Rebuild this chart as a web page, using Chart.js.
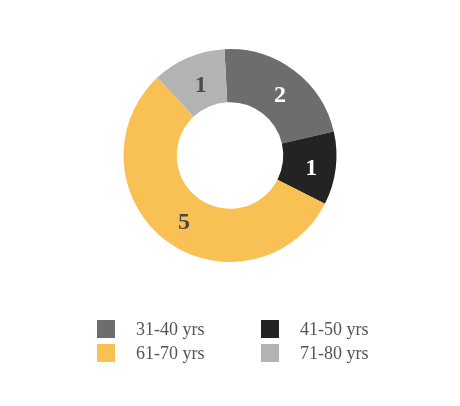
<!DOCTYPE html>
<html>
<head>
<meta charset="utf-8">
<script src="https://cdn.jsdelivr.net/npm/chart.js@4/dist/chart.umd.min.js"></script>
<style>
    body { margin: 0; background: #fff; }
    #wrap { position: relative; width: 460px; height: 406px; }
    #ageChart { position: absolute; left: 0; top: 0; }
    .legend-item {
        position: absolute;
        font-family: 'Liberation Serif', 'Times New Roman', serif;
        font-size: 18px;
        color: #555;
        line-height: 18px;
    }
    .legend-box {
        position: absolute;
        width: 18px;
        height: 18px;
    }
</style>
</head>
<body>
<div id="wrap">
    <canvas id="ageChart" width="460" height="406"></canvas>
    <div id="legend"></div>
</div>
<script>
// 数据
const ageGroups = ['31-40 yrs', '41-50 yrs', '61-70 yrs', '71-80 yrs'];
const counts = [2, 1, 5, 1];
const sliceColors = ['#6d6d6d', '#232323', '#f9c153', '#b3b3b3'];
const labelColors = ['#ffffff', '#ffffff', '#4a4a4a', '#4a4a4a'];

// 在扇区中间画数字
const sliceLabels = {
    id: 'sliceLabels',
    afterDatasetsDraw(chart) {
        const ctx = chart.ctx;
        const meta = chart.getDatasetMeta(0);
        ctx.save();
        ctx.font = 'bold 24px "Liberation Serif", "Times New Roman", serif';
        ctx.textAlign = 'center';
        ctx.textBaseline = 'middle';
        meta.data.forEach((arc, i) => {
            const pos = arc.tooltipPosition();
            ctx.fillStyle = labelColors[i];
            ctx.fillText(String(counts[i]), pos.x + 2, pos.y + 4);
        });
        ctx.restore();
    }
};

new Chart(document.getElementById('ageChart'), {
    type: 'doughnut',
    data: {
        labels: ageGroups,
        datasets: [{
            data: counts,
            backgroundColor: sliceColors,
            borderWidth: 0
        }]
    },
    options: {
        responsive: false,
        animation: false,
        cutout: '50%',
        rotation: -3,
        layout: { padding: { top: 49, bottom: 144, left: 0, right: 0 } },
        plugins: {
            legend: { display: false },
            tooltip: { enabled: false }
        }
    },
    plugins: [sliceLabels]
});

// 图例（两列）
const legendEl = document.getElementById('legend');
const colX = [97, 261];
const rowY = [320, 344];
ageGroups.forEach((name, i) => {
    const x = colX[i % 2];
    const y = rowY[Math.floor(i / 2)];
    const box = document.createElement('div');
    box.className = 'legend-box';
    box.style.left = x + 'px';
    box.style.top = y + 'px';
    box.style.background = sliceColors[i];
    legendEl.appendChild(box);
    const txt = document.createElement('div');
    txt.className = 'legend-item';
    txt.style.left = (x + 39) + 'px';
    txt.style.top = y + 'px';
    txt.textContent = name;
    legendEl.appendChild(txt);
});
</script>
</body>
</html>
